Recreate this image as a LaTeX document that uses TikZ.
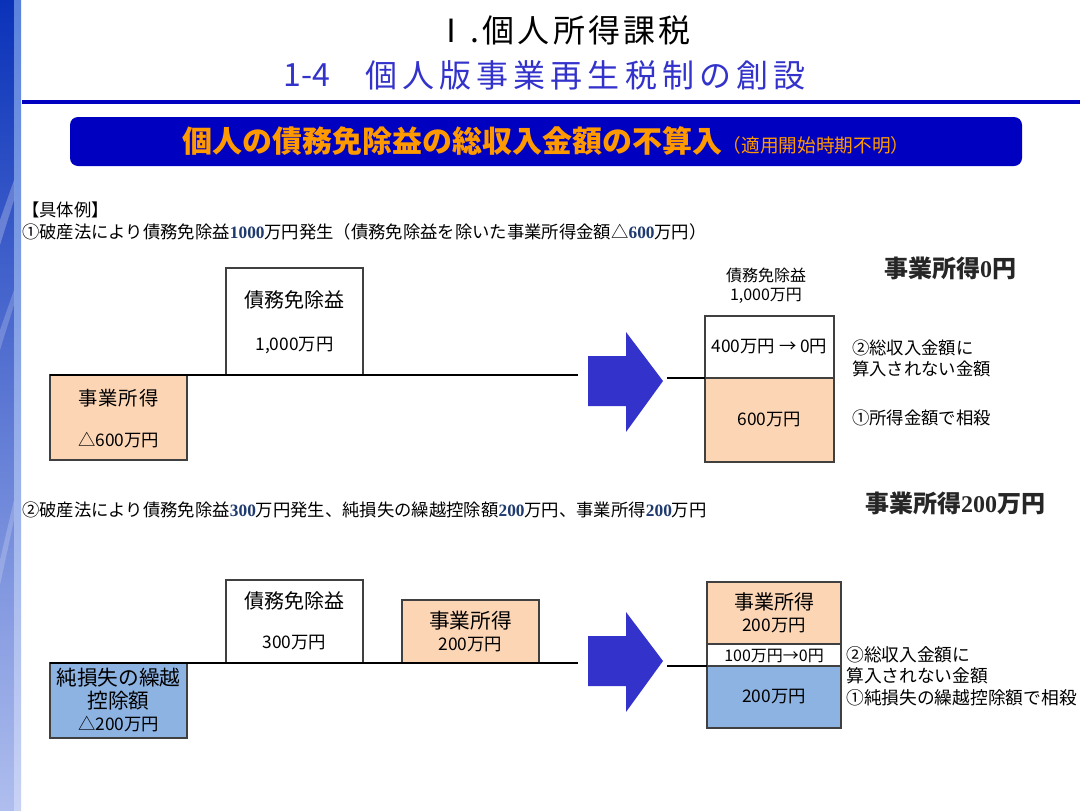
\documentclass[tikz,border=0pt]{standalone}
\usepackage{fontspec}
\setmainfont{Noto Sans CJK JP}
\newfontfamily\numf{Liberation Serif}
\definecolor{orfill}{HTML}{FCD5B5}
\definecolor{blfill}{HTML}{8DB3E2}
\definecolor{bannerblue}{HTML}{0000C0}
\definecolor{bannertext}{HTML}{FF9900}
\definecolor{subblue}{HTML}{3333CC}
\definecolor{arrowblue}{HTML}{3333CC}
\definecolor{boxline}{HTML}{404040}
\definecolor{numnavy}{HTML}{1F3A6E}
\definecolor{headgray}{HTML}{262626}
\newcommand{\nm}[1]{{\numf\bfseries\color{numnavy}#1}}
\newcommand{\hn}[1]{{\numf\bfseries #1}}
\newcommand{\fs}[1]{\fontsize{#1}{#1}\selectfont}
\newcommand{\mybox}[6]{%
  \node[box, fill=#6, anchor=north west,
        minimum width={(#4-#2)*0.75pt}, minimum height={(#5-#3)*0.75pt}] (#1) at (#2,#3) {};}
\begin{document}
\begin{tikzpicture}[x=0.75pt,y=-0.75pt,
  box/.style={draw=boxline, line width=1.1pt, inner sep=0pt, outer sep=0pt},
  hline/.style={draw=black, line width=1.6pt},
  lbl/.style={inner sep=0pt, text=black},
  sent/.style={inner sep=0pt, anchor=west, font=\fs{13}},
  side/.style={inner sep=0pt, anchor=west, font=\fs{13}},
  head/.style={inner sep=0pt, font=\fs{18}\bfseries, text=headgray},
  blockarrow/.style={fill=arrowblue}]
\useasboundingbox (0,0) rectangle (1080,810);
\fill[white] (0,0) rectangle (1080,810);
% left decorative strip
\shade[top color={rgb,255:red,10;green,50;blue,185}, bottom color={rgb,255:red,175;green,190;blue,238}] (0,0) rectangle (14,810);
\shade[top color={rgb,255:red,90;green,130;blue,220}, bottom color={rgb,255:red,200;green,210;blue,245}] (14,0) rectangle (21,810);
\fill[white, opacity=0.25] (0,220) -- (14,180) -- (14,200) -- (0,245) -- cycle;
\fill[white, opacity=0.2] (0,330) -- (14,290) -- (14,305) -- (0,350) -- cycle;
\fill[white, opacity=0.2] (0,560) -- (14,500) -- (14,520) -- (0,585) -- cycle;
% titles
\node[lbl, font=\fs{24}\addfontfeature{LetterSpace=10}] (t1) at (563,30) {Ⅰ.個人所得課税};
\node[lbl, anchor=west, text=subblue, font=\fs{24}] (t2a) at (283,75) {1-4};
\node[lbl, anchor=west, text=subblue, font=\fs{24}\addfontfeature{LetterSpace=16}] (t2b) at (365,75) {個人版事業再生税制の創設};
\fill[bannerblue] (22,100) rectangle (1080,104);
% banner
\node[fill=bannerblue, rounded corners=6pt, minimum width=714pt, minimum height=36.75pt, inner sep=0pt, text=bannertext] (ban) at (546,141.5)
  {\fs{22.5}\bfseries 個人の債務免除益の総収入金額の不算入\fs{14}\mdseries （適用開始時期不明）};
% example 1
\node[sent] (s0) at (22,210) {【具体例】};
\node[sent] (s1) at (22,232) {①破産法により債務免除益\nm{1000}万円発生（債務免除益を除いた事業所得金額△\nm{600}万円）};
\mybox{a1}{226}{268}{363}{375}{white}
\node[lbl, font=\fs{15}] (a1t) at (294.5,300) {債務免除益};
\node[lbl, font=\fs{13}] (a1v) at (294.5,345) {1,000万円};
\mybox{a2}{50}{375}{187}{460}{orfill}
\node[lbl, font=\fs{14.5}\addfontfeature{LetterSpace=5}] (a2t) at (118.5,398) {事業所得};
\node[lbl, font=\fs{13}] (a2v) at (118.5,440) {△600万円};
\coordinate (l1e) at (578,375);
\draw[hline] (a2.north west) -- (l1e);
\fill[blockarrow] (588,356) -- (626,356) -- (626,332) -- (663,381) -- (626,432) -- (626,406) -- (588,406) -- cycle;
\mybox{a3}{705}{316}{834}{378}{white}
\mybox{a4}{705}{378}{834}{462}{orfill}
\node[lbl, font=\fs{13}] (a3t) at (769.5,347) {400万円 → 0円};
\node[lbl, font=\fs{13}] (a4t) at (769.5,420) {600万円};
\coordinate (r1s) at (667,378);
\draw[hline] (r1s) -- (a4.north west);
\node[lbl, font=\fs{12}] (a5t) at (766,275) {債務免除益};
\node[lbl, font=\fs{12}] (a5v) at (766,296) {1,000万円};
\node[head] (h1) at (950,268) {事業所得\hn{0}円};
\node[side] (c1) at (852,348) {②総収入金額に};
\node[side] (c2) at (852,369) {算入されない金額};
\node[side] (c3) at (852,418) {①所得金額で相殺};
% example 2
\node[sent] (s2) at (22,510) {②破産法により債務免除益\nm{300}万円発生、純損失の繰越控除額\nm{200}万円、事業所得\nm{200}万円};
\node[head] (h2) at (955,503) {事業所得\hn{200}万円};
\mybox{b1}{226}{580}{363}{663}{white}
\node[lbl, font=\fs{15}] (b1t) at (294.5,601) {債務免除益};
\node[lbl, font=\fs{13}] (b1v) at (294.5,643) {300万円};
\mybox{b2}{402}{600}{539}{663}{orfill}
\node[lbl, font=\fs{15.5}] (b2t) at (470.5,621) {事業所得};
\node[lbl, font=\fs{13}] (b2v) at (470.5,645) {200万円};
\mybox{b3}{50}{663}{187}{738}{blfill}
\node[lbl, font=\fs{15.5}] (b3t) at (118.5,678) {純損失の繰越};
\node[lbl, font=\fs{15.5}] (b3u) at (118.5,701) {控除額};
\node[lbl, font=\fs{13}] (b3v) at (118.5,724) {△200万円};
\coordinate (l2e) at (578,663);
\draw[hline] (b3.north west) -- (l2e);
\fill[blockarrow] (588,636) -- (626,636) -- (626,612) -- (663,661) -- (626,712) -- (626,686) -- (588,686) -- cycle;
\mybox{b4}{707}{582}{841}{644}{orfill}
\mybox{b5}{707}{644}{841}{666}{white}
\mybox{b6}{707}{666}{841}{728}{blfill}
\node[lbl, font=\fs{15}] (b4t) at (774,602) {事業所得};
\node[lbl, font=\fs{13}] (b4v) at (774,626) {200万円};
\node[lbl, font=\fs{12}] (b5t) at (774,655.5) {100万円→0円};
\node[lbl, font=\fs{13}] (b6t) at (774,697) {200万円};
\coordinate (r2s) at (667,666);
\draw[hline] (r2s) -- (b6.north west);
\node[side, font=\fs{13.3}] (d1) at (846,655) {②総収入金額に};
\node[side, font=\fs{13.3}] (d2) at (846,676) {算入されない金額};
\node[side, font=\fs{13.3}] (d3) at (846,698) {①純損失の繰越控除額で相殺};
\end{tikzpicture}
\end{document}
